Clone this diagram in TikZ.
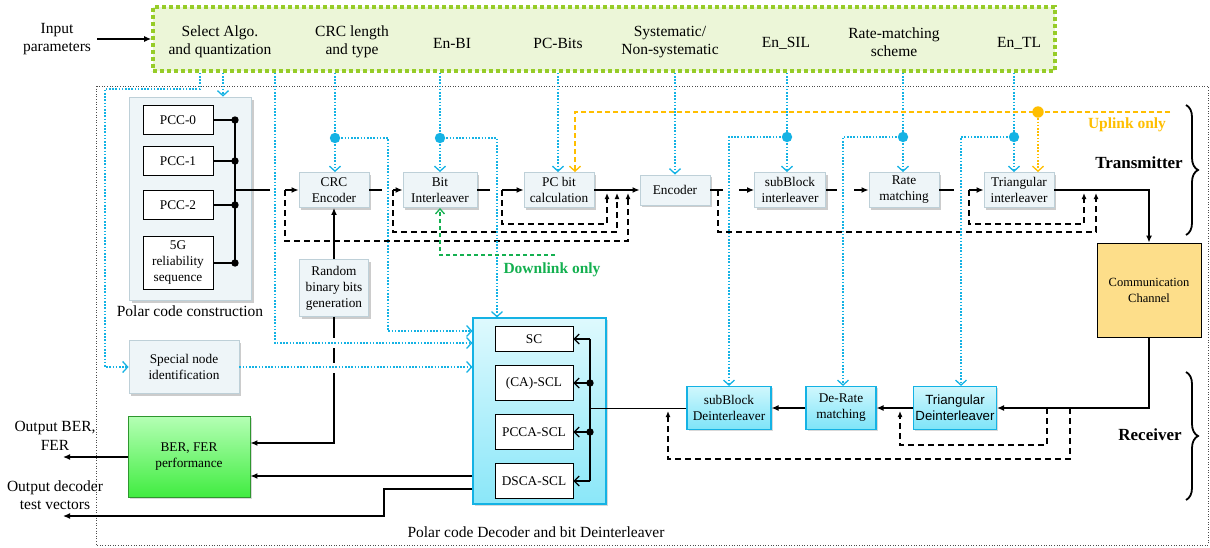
\documentclass[tikz,border=0pt]{standalone}
\usepackage{fontspec}
\setmainfont{Liberation Serif}
\newfontfamily\arialf{Liberation Sans}
\usetikzlibrary{arrows.meta,positioning,shadows,decorations.pathreplacing}
\definecolor{pcyan}{RGB}{20,178,228}
\definecolor{pgreenb}{RGB}{150,204,40}
\definecolor{pgreenf}{RGB}{236,246,216}
\definecolor{porange}{RGB}{255,190,0}
\definecolor{pgreent}{RGB}{20,176,80}
\definecolor{txfill}{RGB}{238,245,248}
\definecolor{txdraw}{RGB}{190,208,216}
\definecolor{chfill}{RGB}{253,222,138}
\definecolor{rxtop}{RGB}{208,247,253}
\definecolor{rxbot}{RGB}{125,228,248}
\definecolor{bertop}{RGB}{180,255,180}
\definecolor{berbot}{RGB}{64,236,64}
\definecolor{berdraw}{RGB}{46,150,46}
\newcommand{\bxfont}{\fontsize{13.3}{16}\selectfont}
\newcommand{\lgfont}{\fontsize{15.5}{18.5}\selectfont}

\begin{document}
\begin{tikzpicture}[x=1pt, y=-1pt, inner sep=0pt,
  tx/.style={draw=txdraw, fill=txfill, line width=0.9pt, drop shadow={opacity=0.4, shadow xshift=2pt, shadow yshift=-2pt},
    minimum width=70, minimum height=35, align=center, font=\bxfont},
  rx/.style={draw=pcyan, line width=1.1pt, top color=rxtop, bottom color=rxbot, drop shadow={opacity=0.3, shadow xshift=1.5pt, shadow yshift=-1.5pt},
    minimum height=43, align=center, font=\bxfont},
  wb/.style={draw, fill=white, line width=0.8pt, minimum width=70, minimum height=29, align=center, font=\bxfont},
  lbl/.style={align=center, font=\lgfont},
  ln/.style={line width=1.3pt},
  ar/.style={line width=1.3pt, -{Latex[length=7pt,width=6pt]}},
  lp/.style={line width=1.3pt, dash pattern=on 6pt off 4pt, -{Latex[length=6pt,width=5pt]}},
  cl/.style={pcyan, line width=1.6pt, dash pattern=on 1.6pt off 1.6pt},
  ca/.style={cl, -{Straight Barb[length=5pt,width=11pt,line width=1.3pt]}},
  ba/.style={ln, -{Straight Barb[length=5pt,width=10pt,line width=1.2pt]}}]
\useasboundingbox (0,0) rectangle (1210,547);
% Outer frame
\draw[black!70, line width=0.6pt, dotted] (96,86) rectangle (1208,545);
\node[lbl] (declbl) at (536,532) {Polar code Decoder and bit Deinterleaver};
% Input parameters
\node[lbl] (inp) at (57,39) {Input\\parameters};
\node[draw=pgreenb, fill=pgreenf, line width=3.6pt, dash pattern=on 3.6pt off 3.4pt, minimum width=902, minimum height=64] (par) at (604,39) {};
\node[lbl] (p1) at (220,42) {Select Algo.\\and quantization};
\node[lbl] (p2) at (352,42) {CRC length\\and type};
\node[lbl] (p3) at (452,43) {En-BI};
\node[lbl] (p4) at (558,43) {PC-Bits};
\node[lbl] (p5) at (670,42) {Systematic/\\Non-systematic};
\node[lbl] (p6) at (786,43) {En\_SIL};
\node[lbl] (p7) at (894,42) {Rate-matching\\scheme};
\node[lbl] (p8) at (1019,43) {En\_TL};
\draw[ar] ([xshift=6]inp.east) -- (par.west |- inp.east);
% Polar code construction
\node[draw=txdraw, fill=txfill, line width=0.9pt, drop shadow={opacity=0.4, shadow xshift=2.5pt, shadow yshift=-2.5pt}, minimum width=122, minimum height=203] (pcc) at (190,198.5) {};
\node[lbl] (pcclbl) at (190,311) {Polar code construction};
\node[wb] (pcc0) at (178,120) {PCC-0};
\node[wb] (pcc1) at (178,161) {PCC-1};
\node[wb] (pcc2) at (178,205) {PCC-2};
\node[wb, minimum height=53] (rel) at (178,263) {5G\\reliability\\sequence};
% Transmitter chain
\node[tx] (crc) at (334,190) {CRC\\Encoder};
\node[tx, minimum width=74] (bil) at (440,190) {Bit\\Interleaver};
\node[tx] (pcb) at (559,190) {PC bit\\calculation};
\node[tx, minimum height=30] (enc) at (675,190) {Encoder};
\node[tx, minimum width=71] (sbi) at (790,190) {subBlock\\interleaver};
\node[tx] (rm) at (904,190) {Rate\\matching};
\node[tx] (tri) at (1019,190) {Triangular\\interleaver};
\node[tx, minimum width=69, minimum height=57] (rbg) at (334,288) {Random\\binary bits\\generation};
\node[tx, minimum width=110, minimum height=53] (snid) at (184,367) {Special node\\identification};
% Channel and receiver
\node[draw, fill=chfill, line width=0.9pt, minimum width=104, minimum height=94, align=center, font=\fontsize{12.5}{16}\selectfont] (ch) at (1149,290) {Communication\\Channel};
\node[rx, minimum width=83, font=\arialf\bxfont] (tde) at (955,408) {Triangular\\Deinterleaver};
\node[rx, minimum width=70] (drm) at (841,408) {De-Rate\\matching};
\node[rx, minimum width=84] (sbd) at (729,408) {subBlock\\Deinterleaver};
% Decoder
\node[draw=pcyan, line width=1.1pt, top color=rxtop!70!white, bottom color=rxbot!90!white, drop shadow={opacity=0.3, shadow xshift=2pt, shadow yshift=-2pt}, minimum width=133, minimum height=186] (dec) at (539.5,411) {};
\node[wb, minimum width=78, minimum height=25] (sc) at (534,339) {SC};
\node[wb, minimum width=78, minimum height=35] (casc) at (534,383) {(CA)-SCL};
\node[wb, minimum width=78, minimum height=35] (pcca) at (534,432) {PCCA-SCL};
\node[wb, minimum width=78, minimum height=35] (dsca) at (534,481) {DSCA-SCL};
% BER
\node[draw=berdraw, line width=0.9pt, top color=bertop, bottom color=berbot, drop shadow={opacity=0.3, shadow xshift=1.5pt, shadow yshift=-1.5pt}, minimum width=122, minimum height=81, align=center, font=\bxfont] (ber) at (189,457) {BER, FER\\performance};
\node[lbl] (obl) at (55,436) {Output BER,\\FER};
\node[lbl] (otl) at (55,495) {Output decoder\\test vectors};
% Side labels
\node[font=\fontsize{17}{20}\selectfont\bfseries] (txl) at (1139,163) {Transmitter};
\node[font=\fontsize{17}{20}\selectfont\bfseries] (rxl) at (1150,435) {Receiver};
\node[font=\lgfont\bfseries, text=porange] (upl) at (1127,125) {Uplink only};
\node[font=\lgfont\bfseries, text=pgreent] (dnl) at (552,270) {Downlink only};
\draw[line width=1.8pt, decorate, decoration={brace, amplitude=12pt}] (1186,105) -- (1186,235);
\draw[line width=1.8pt, decorate, decoration={brace, amplitude=12pt}] (1186,372) -- (1186,500);
% Construction bus
\draw[ln] (235,120) -- (235,263);
\foreach \b in {pcc0,pcc1,pcc2,rel}{
  \draw[ln] (\b.east) -- (\b.east -| 235,0);
  \fill (\b.east -| 235,0) circle (3.7pt);
}
% Transmitter arrows
\draw[ln] (235,190) -- (270,190);
\draw[ar] (285,190) -- (crc.west);
\draw[ln] (crc.east) -- (382,190);
\draw[ar] (393,190) -- (bil.west);
\draw[ln] (bil.east) -- (490,190);
\draw[ar] (502,190) -- (pcb.west);
\draw[ar] (pcb.east) -- (enc.west);
\draw[ln] (enc.east) -- (723,190);
\draw[ar] (739,190) -- (sbi.west);
\draw[ln] (sbi.east) -- (837,190);
\draw[ar] (854,190) -- (rm.west);
\draw[ln] (rm.east) -- (954,190);
\draw[ar] (969,190) -- (tri.west);
\draw[ar] (tri.east) -| (ch.north);
% Bypass loops
\draw[lp] (285,190) |- (628,241) -- (628,193);
\draw[lp] (393,190) |- (617,232) -- (617,193);
\draw[lp] (502,190) |- (607,224) -- (607,193);
\draw[lp] (718,190) |- (1096,232) -- (1096,193);
\draw[lp] (969,190) |- (1084,224) -- (1084,193);
% Receiver arrows
\draw[ar] (ch.south) |- (tde.east);
\draw[ar] (tde.west) -- (drm.east);
\draw[ar] (drm.west) -- (sbd.east);
\draw[line width=0.7pt] (sbd.west) -- (590,408);
\draw[lp] (1047,408) |- (900,445) -- (900,411);
\draw[lp] (1070,408) |- (668,459) -- (668,411);
% Decoder bus
\draw[ln] (590,339) -- (590,481);
\foreach \d in {sc,casc,pcca,dsca}
  \draw[ba] (\d.east -| 590,0) -- (\d.east);
\fill (casc.east -| 590,0) circle (3.7pt);
\fill (pcca.east -| 590,0) circle (3.7pt);
% Outputs
\draw[ar] (rbg.north) -- (crc.south);
\draw[ar] (rbg.south) |- (ber.east |- 0,443);
\fill[white] (329,338) rectangle (339,348);
\fill[white] (329,363) rectangle (339,373);
\draw[ar] (dec.west |- 0,476) -- (ber.east |- 0,476);
\draw[ar] (ber.west) -- (63,457);
\draw[ar] (dec.west |- 0,489) -| (384,516) -- (63,516);
% Parameter lines
\draw[ca] (par.south -| 200,0) |- (105,89) |- (snid.west);
\draw[ca] (par.south -| 223,0) -- (pcc.north -| 223,0);
\draw[ca] (par.south -| 275,0) |- (dec.west |- 0,343);
\draw[ca] (snid.east) -- (dec.west |- snid.east);
\draw[cl] (par.south -| 335,0) -- (335,138);
\draw[ca] (335,138) -- (crc.north -| 335,0);
\draw[ca] (335,138) -| (388,331) -- (dec.west |- 0,331);
\draw[cl] (par.south -| 440,0) -- (440,138);
\draw[ca] (440,138) -- (bil.north);
\draw[ca] (440,138) -| (dec.north -| 497,0);
\draw[ca] (par.south -| 558,0) -- (pcb.north -| 558,0);
\draw[ca] (par.south -| enc) -- (enc.north);
\draw[cl] (par.south -| 787,0) -- (787,137);
\draw[ca] (787,137) -- (sbi.north -| 787,0);
\draw[ca] (787,137) -| (sbd.north);
\draw[cl] (par.south -| 903,0) -- (903,137);
\draw[ca] (903,137) -- (rm.north -| 903,0);
\draw[ca] (903,137) -| (drm.north -| 843,0);
\draw[cl] (par.south -| 1014,0) -- (1014,137);
\draw[ca] (1014,137) -- (tri.north -| 1014,0);
\draw[ca] (1014,137) -| (tde.north -| 961,0);
\foreach \j in {(335,138),(440,138),(787,137),(903,137),(1014,137)}
  \fill[pcyan] \j circle (5.2pt);
% Uplink / downlink
\draw[porange, line width=1.4pt, dash pattern=on 5pt off 3pt, -{Straight Barb[length=5pt,width=11pt,line width=1.3pt]}] (1170,112) -| (pcb.north -| 575,0);
\draw[porange, line width=1.4pt, dash pattern=on 1.6pt off 1.6pt, -{Straight Barb[length=5pt,width=11pt,line width=1.3pt]}] (1038,112) -- (tri.north -| 1038,0);
\fill[porange] (1038,112) circle (5.7pt);
\draw[pgreent, line width=1.4pt, dash pattern=on 4pt off 3pt, -{Straight Barb[length=5pt,width=9pt,line width=1.3pt]}] (555,255) -| (bil.south);
\end{tikzpicture}
\end{document}
